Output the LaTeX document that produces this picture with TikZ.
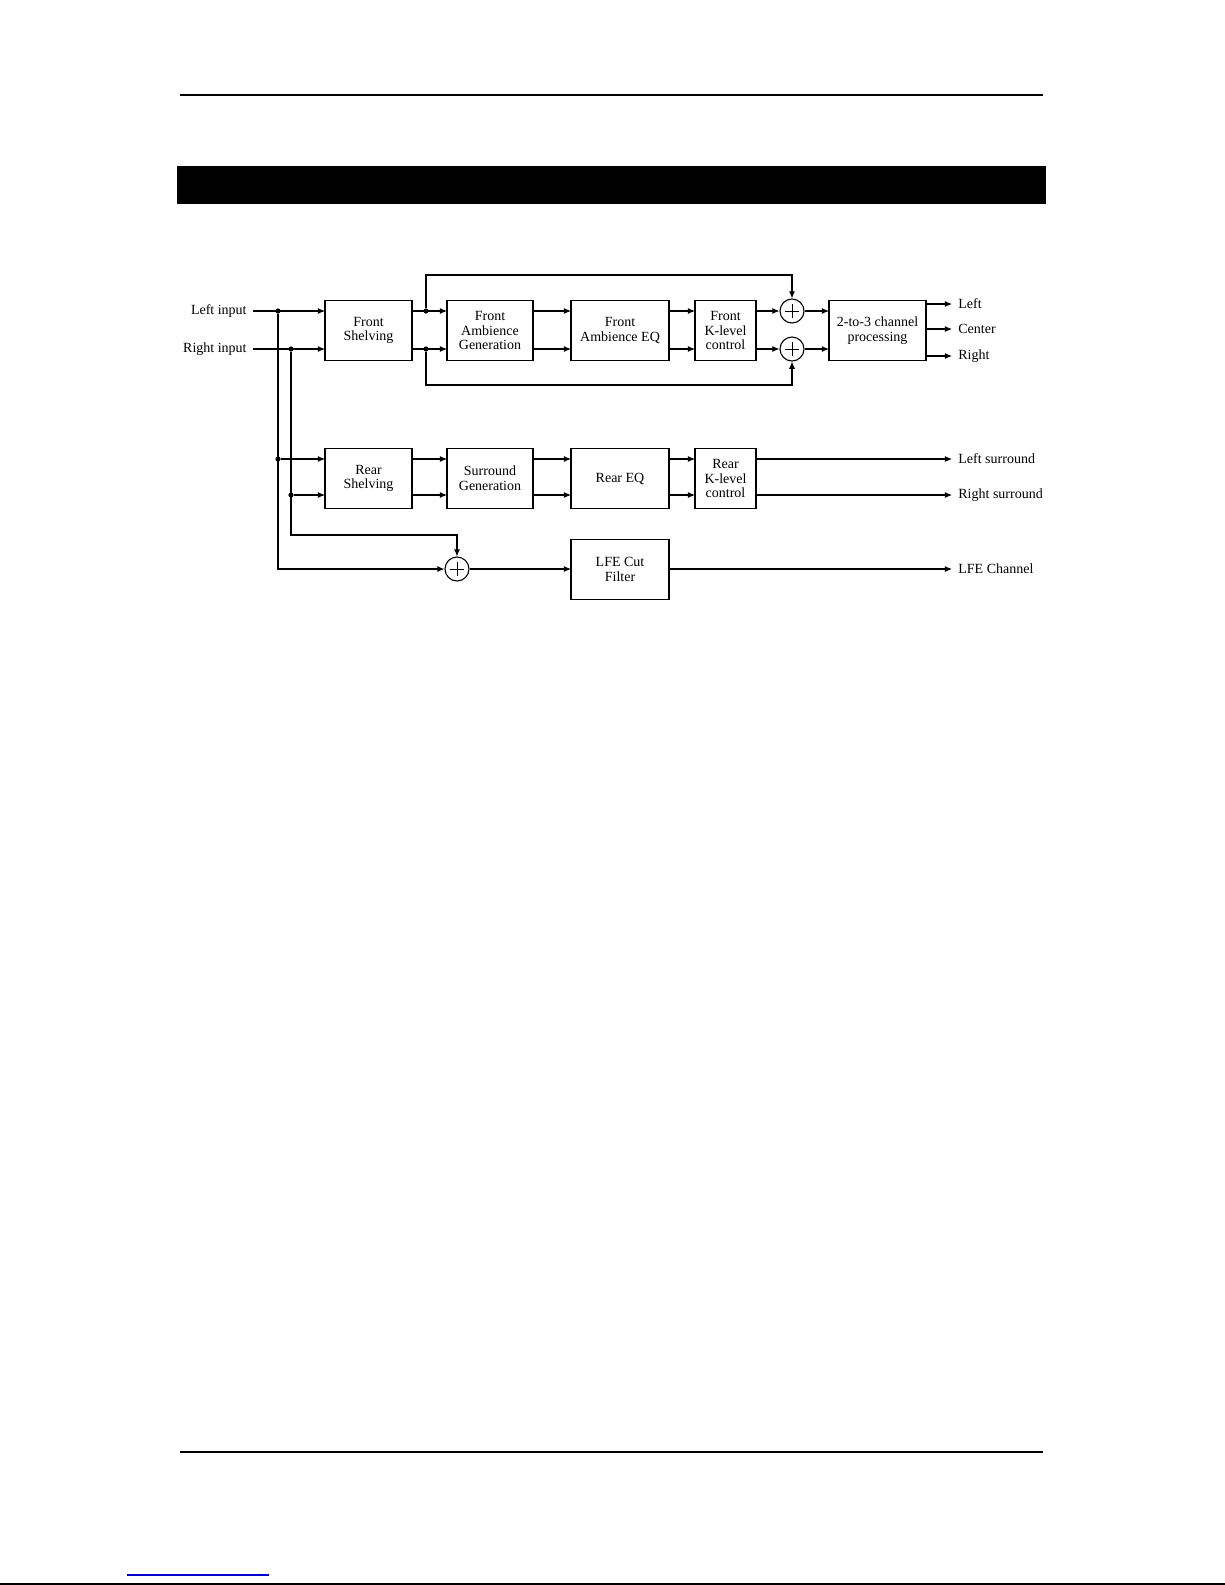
\documentclass[tikz,border=0pt]{standalone}
\usepackage{fontspec}
\setmainfont{Liberation Serif}
\usepackage{xcolor}
\usetikzlibrary{arrows.meta,positioning}
\definecolor{linkblue}{RGB}{0,0,204}
\tikzset{
  blockbox/.style={draw,line width=0.55pt,minimum height=30pt,align=center,
    inner sep=1pt,outer sep=0pt,font=\fontsize{7}{7.4}\selectfont},
  sumnode/.style={draw,circle,line width=0.55pt,minimum size=12pt,inner sep=0pt,
    path picture={\draw[line width=0.4pt]
      ([xshift=-3.6pt]path picture bounding box.center) -- ([xshift=3.6pt]path picture bounding box.center)
      ([yshift=-3.6pt]path picture bounding box.center) -- ([yshift=3.6pt]path picture bounding box.center);}},
  sigarrow/.style={-{Latex[length=3.6pt,width=3.1pt]},line width=0.55pt},
  iolabel/.style={font=\fontsize{7}{7.4}\selectfont,inner sep=3pt},
  junction/.style={circle,fill,inner sep=0pt,minimum size=2.6pt},
  pagerule/.style={line width=0.75pt}
}

\begin{document}
\begin{tikzpicture}[x=0.5pt,y=-0.5pt]
  \useasboundingbox (0,0) rectangle (1225,1585);
  % page furniture
  \draw[pagerule] (180,95) -- (1043,95);
  \fill (177,166) rectangle (1046,204);
  \draw[pagerule] (180,1452) -- (1043,1452);
  \draw[linkblue,line width=0.6pt] (127,1575) -- (269,1575);
  \draw[pagerule] (0,1584) -- (1225,1584);

  % signal rows
  \coordinate (rowA) at (0,311);
  \coordinate (rowB) at (0,349);
  \coordinate (rowC) at (0,459);
  \coordinate (rowD) at (0,495);

  % front chain
  \node[blockbox,minimum width=43.5pt] (fs) at (368.5,330.5) {Front\\Shelving};
  \node[blockbox,minimum width=43pt,right=17.5pt of fs] (fag) {Front\\Ambience\\Generation};
  \node[blockbox,minimum width=49pt,right=19pt of fag] (faeq) {Front\\Ambience EQ};
  \node[blockbox,minimum width=30.5pt,right=13pt of faeq] (fkl) {Front\\K-level\\control};
  \node[blockbox,minimum width=48.5pt,right=36.5pt of fkl] (tto) {2-to-3 channel\\processing};
  \node[sumnode] (sumL) at (792,311) {};
  \node[sumnode] (sumR) at (792,349) {};

  % rear chain
  \node[blockbox,minimum width=43.5pt,below=44pt of fs] (rs) {Rear\\Shelving};
  \node[blockbox,minimum width=43pt,below=44pt of fag] (sg) {Surround\\Generation};
  \node[blockbox,minimum width=49pt,below=44pt of faeq] (req) {Rear EQ};
  \node[blockbox,minimum width=30.5pt,below=44pt of fkl] (rkl) {Rear\\K-level\\control};
  \node[blockbox,minimum width=49pt,below=15.5pt of req] (lfe) {LFE Cut\\Filter};
  \node[sumnode] (lfesum) at (457,569) {};

  % inputs and outputs
  \node[iolabel,anchor=east] (lin) at (253,311) {Left input};
  \node[iolabel,anchor=east] (rin) at (253,349) {Right input};
  \node[iolabel,anchor=west] (oleft) at (952,304) {Left};
  \node[iolabel,anchor=west] (ocenter) at (952,329) {Center};
  \node[iolabel,anchor=west] (oright) at (952,356) {Right};
  \node[iolabel,anchor=west] (olsur) at (952,459) {Left surround};
  \node[iolabel,anchor=west] (orsur) at (952,495) {Right surround};
  \node[iolabel,anchor=west] (olfe) at (952,569) {LFE Channel};

  % junction dots
  \node[junction] (jl) at (278,311) {};
  \node[junction] (jr) at (291,349) {};
  \node[junction] (jlr) at (278,459) {};
  \node[junction] (jrr) at (291,495) {};
  \node[junction] (fjl) at (426,311) {};
  \node[junction] (fjr) at (426,349) {};
  \coordinate (bypup) at (792,275);
  \coordinate (bypdn) at (792,385);
  \coordinate (lfebend) at (457,535);

  % front connections
  \draw[sigarrow] (lin.east) -- (fs.west |- rowA);
  \draw[sigarrow] (rin.east) -- (fs.west |- rowB);
  \draw[sigarrow] (fs.east |- rowA) -- (fag.west |- rowA);
  \draw[sigarrow] (fs.east |- rowB) -- (fag.west |- rowB);
  \draw[sigarrow] (fag.east |- rowA) -- (faeq.west |- rowA);
  \draw[sigarrow] (fag.east |- rowB) -- (faeq.west |- rowB);
  \draw[sigarrow] (faeq.east |- rowA) -- (fkl.west |- rowA);
  \draw[sigarrow] (faeq.east |- rowB) -- (fkl.west |- rowB);
  \draw[sigarrow] (fkl.east |- rowA) -- (sumL.west);
  \draw[sigarrow] (fkl.east |- rowB) -- (sumR.west);
  \draw[sigarrow] (fjl) |- (bypup) -- (sumL.north);
  \draw[sigarrow] (fjr) |- (bypdn) -- (sumR.south);
  \draw[sigarrow] (sumL.east) -- (tto.west |- sumL);
  \draw[sigarrow] (sumR.east) -- (tto.west |- sumR);
  \draw[sigarrow] (tto.east |- oleft.west) -- (oleft.west);
  \draw[sigarrow] (tto.east |- ocenter.west) -- (ocenter.west);
  \draw[sigarrow] (tto.east |- oright.west) -- (oright.west);

  % rear connections
  \draw[sigarrow] (jl) |- (lfesum.west);
  \draw[sigarrow] (jr) |- (lfebend) -- (lfesum.north);
  \draw[sigarrow] (jlr) -- (rs.west |- rowC);
  \draw[sigarrow] (jrr) -- (rs.west |- rowD);
  \draw[sigarrow] (rs.east |- rowC) -- (sg.west |- rowC);
  \draw[sigarrow] (rs.east |- rowD) -- (sg.west |- rowD);
  \draw[sigarrow] (sg.east |- rowC) -- (req.west |- rowC);
  \draw[sigarrow] (sg.east |- rowD) -- (req.west |- rowD);
  \draw[sigarrow] (req.east |- rowC) -- (rkl.west |- rowC);
  \draw[sigarrow] (req.east |- rowD) -- (rkl.west |- rowD);
  \draw[sigarrow] (rkl.east |- olsur.west) -- (olsur.west);
  \draw[sigarrow] (rkl.east |- orsur.west) -- (orsur.west);
  \draw[sigarrow] (lfesum.east) -- (lfe.west |- lfesum);
  \draw[sigarrow] (lfe.east |- olfe.west) -- (olfe.west);
\end{tikzpicture}
\end{document}
